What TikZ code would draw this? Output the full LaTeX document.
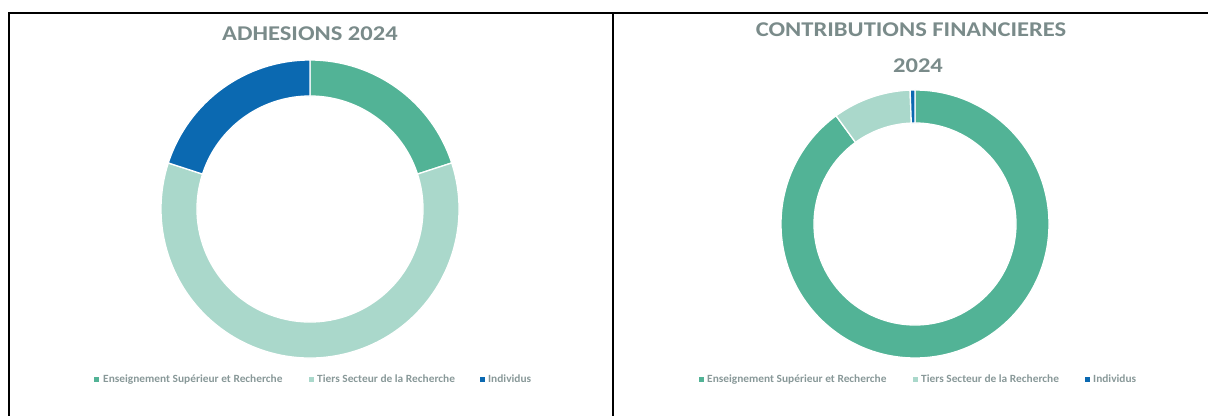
\documentclass[tikz,border=0pt]{standalone}
\usepackage{fontspec}
\setmainfont{Carlito}
\newfontfamily\ttlfont[FakeStretch=1.17]{Carlito}
\newfontfamily\lgdfont[FakeStretch=1.035]{Carlito}
\usetikzlibrary{calc}
\definecolor{esr}{HTML}{52B396}
\definecolor{tiers}{HTML}{AAD8CB}
\definecolor{indiv}{HTML}{0B69B1}
\definecolor{ttl}{HTML}{7A8B8A}
\definecolor{lgd}{HTML}{889898}
\tikzset{
  frame/.style={line width=2pt, black},
  segsep/.style={draw=white, line width=1.3pt},
  ttlstyle/.style={font=\ttlfont\bfseries\fontsize{21}{25}\selectfont, text=ttl, inner sep=0pt, anchor=base},
  lgdtext/.style={font=\lgdfont\bfseries\fontsize{11}{13}\selectfont, text=lgd, inner sep=0pt, anchor=base west},
  lgdbox/.style={minimum size=5pt, inner sep=0pt, anchor=center},
}
\newcommand\ringseg[6]{% center, R, r, start, end, colour
  \fill[#6, segsep] ($(#1)+(#4:#2)$) arc[start angle=#4, end angle=#5, radius=#2]
    -- ($(#1)+(#5:#3)$) arc[start angle=#5, end angle=#4, radius=#3] -- cycle;}
\begin{document}
\begin{tikzpicture}[x=1pt, y=1pt]
\useasboundingbox (0,0) rectangle (1208,416);
% frame
\coordinate (tl) at (9,403);
\coordinate (tr) at (1208,403);
\coordinate (bl) at (9,0);
\coordinate (tm) at (613,403);
\coordinate (bm) at (613,0);
\draw[frame] (tr) -- (tl) -- (bl);
\draw[frame] (tm) -- (bm);
% left chart
\node[ttlstyle] (t1) at (310,375) {ADHESIONS 2024};
\coordinate (c1) at (310,207);
\ringseg{c1}{149}{113}{90}{18}{esr}
\ringseg{c1}{149}{113}{18}{-198}{tiers}
\ringseg{c1}{149}{113}{-198}{-270}{indiv}
\node[lgdbox, fill=esr] (l1a) at (96,37) {};
\node[lgdtext] (l1at) at (103,34) {Enseignement Supérieur et Recherche};
\node[lgdbox, fill=tiers] (l1b) at (311,37) {};
\node[lgdtext] (l1bt) at (317,34) {Tiers Secteur de la Recherche};
\node[lgdbox, fill=indiv] (l1c) at (482,37) {};
\node[lgdtext] (l1ct) at (488,34) {Individus};
% right chart
\node[ttlstyle] (t2a) at (911,379) {CONTRIBUTIONS FINANCIERES};
\node[ttlstyle] (t2b) at (918,343) {2024};
\coordinate (c2) at (915,192);
\ringseg{c2}{134}{101}{90}{-233.9}{esr}
\ringseg{c2}{134}{101}{-233.9}{-267.9}{tiers}
\ringseg{c2}{134}{101}{-267.9}{-270}{indiv}
\node[lgdbox, fill=esr] (l2a) at (701,37) {};
\node[lgdtext] (l2at) at (707,34) {Enseignement Supérieur et Recherche};
\node[lgdbox, fill=tiers] (l2b) at (915,37) {};
\node[lgdtext] (l2bt) at (921,34) {Tiers Secteur de la Recherche};
\node[lgdbox, fill=indiv] (l2c) at (1087,37) {};
\node[lgdtext] (l2ct) at (1093,34) {Individus};
\end{tikzpicture}
\end{document}
